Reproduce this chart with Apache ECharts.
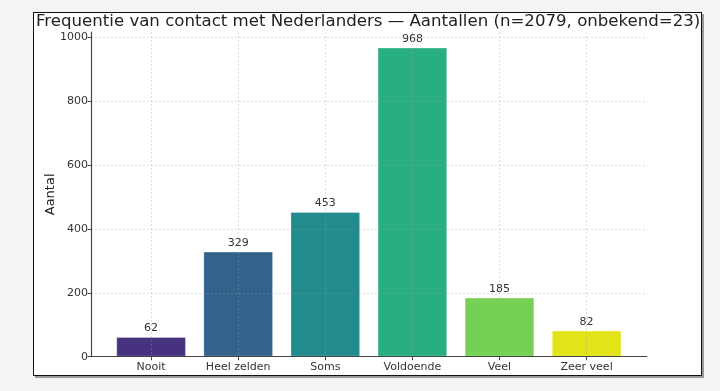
<!DOCTYPE html>
<html><head><meta charset="utf-8">
<script src="https://cdn.jsdelivr.net/npm/echarts@6/dist/echarts.min.js"></script>
<style>
html,body{margin:0;padding:0;background:#f4f4f4;}
#frame{position:absolute;left:33px;top:12px;width:667px;height:362px;background:#fff;border:1.5px solid #111;box-shadow:2px 2px 0 #9a9a9a;}
#c{position:absolute;left:0;top:0;width:720px;height:391px;}
</style></head>
<body>
<div id="frame"></div>
<div id="c"></div>
<script>
const titleText = 'Frequentie van contact met Nederlanders — Aantallen (n=2079, onbekend=23)';
const categories = ['Nooit', 'Heel zelden', 'Soms', 'Voldoende', 'Veel', 'Zeer veel'];
const counts = [62, 329, 453, 968, 185, 82];
const barColors = ['#46327e', '#33628d', '#238a8d', '#29af7f', '#75d054', '#e2e418'];
const yTickValues = [0, 200, 400, 600, 800, 1000];
const yLabel = 'Aantal';

const positions = categories.map((_, i) => i);
const yMax = Math.max(...counts) * 1.05;
const xMin = -0.4 - 0.05 * (categories.length - 1 + 0.8);
const xMax = categories.length - 1 + 0.4 + 0.05 * (categories.length - 1 + 0.8);

const chart = echarts.init(document.getElementById('c'), null, {renderer: 'canvas'});
const font = 'DejaVu Sans';
const gridLine = {show: true, lineStyle: {color: 'rgba(160,160,160,0.45)', type: [2, 2], width: 0.8}};
chart.setOption({
  backgroundColor: 'transparent',
  animation: false,
  title: {
    text: titleText, left: 36, top: 13, padding: 0,
    textStyle: {fontFamily: font, fontSize: 16.6, fontWeight: 'normal', color: '#222'}
  },
  grid: {left: 91, right: 73.3, top: 32, bottom: 34.3, containLabel: false},
  xAxis: {
    type: 'value', min: xMin, max: xMax, z: 5,
    axisLine: {show: true, onZero: false, lineStyle: {color: '#444', width: 1.2}},
    axisTick: {show: true, customValues: positions, length: 3.5, lineStyle: {color: '#444'}},
    axisLabel: {customValues: positions, formatter: v => categories[Math.round(v)], margin: 5,
      fontFamily: font, fontSize: 11, color: '#333'},
    splitLine: gridLine
  },
  yAxis: {
    type: 'value', min: 0, max: yMax, z: 5,
    name: yLabel, nameLocation: 'middle', nameRotate: 90, nameGap: 34, nameMoveOverlap: false,
    nameTextStyle: {fontFamily: font, fontSize: 13, color: '#222'},
    axisLine: {show: true, onZero: false, lineStyle: {color: '#444', width: 1.2}},
    axisTick: {show: true, customValues: yTickValues, length: 3.5, lineStyle: {color: '#444'}},
    axisLabel: {customValues: yTickValues, formatter: v => String(v), margin: 3,
      fontFamily: font, fontSize: 11, color: '#333'},
    splitLine: gridLine
  },
  series: [{
    type: 'bar', barWidth: 69.7, z: 2,
    data: counts.map((v, i) => ({value: [positions[i], v], itemStyle: {color: barColors[i]}})),
    itemStyle: {borderColor: 'rgba(255,255,255,0.3)', borderWidth: 1},
    label: {show: true, position: 'top', distance: 3, fontFamily: font, fontSize: 11, color: '#333',
      formatter: p => String(p.value[1])}
  }]
});
</script>
</body></html>
